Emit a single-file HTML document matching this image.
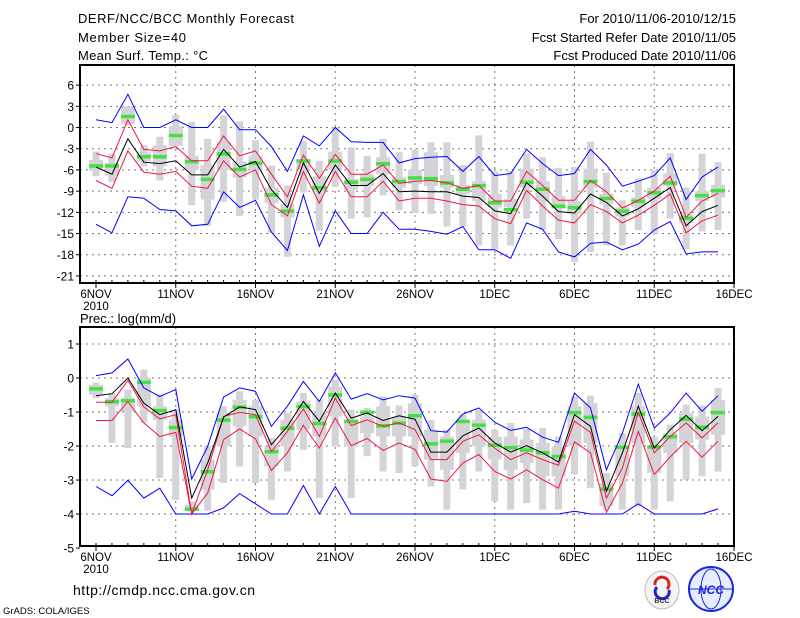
<!DOCTYPE html>
<html><head><meta charset="utf-8"><style>
html,body{margin:0;padding:0;background:#fff;}
svg{display:block;font-family:"Liberation Sans",sans-serif;}
</style></head><body>
<svg id="chart" width="800" height="618" viewBox="0 0 800 618">
<g font-size="13" fill="#000">
<text x="78" y="23" textLength="216">DERF/NCC/BCC Monthly Forecast</text>
<text x="78" y="42" textLength="108">Member Size=40</text>
<text x="78" y="60" textLength="130">Mean Surf. Temp.: °C</text>
<text x="736" y="23" text-anchor="end">For 2010/11/06-2010/12/15</text>
<text x="736" y="42" text-anchor="end">Fcst Started Refer Date 2010/11/05</text>
<text x="736" y="60" text-anchor="end">Fcst Produced Date 2010/11/06</text>
</g>
<text x="80" y="323" font-size="13">Prec.: log(mm/d)</text>
<g id="top"></g>
<g id="bot"></g>
<g>
<text x="73" y="595" font-size="14" textLength="182">http://cmdp.ncc.cma.gov.cn</text>
<text x="3" y="614" font-size="9.5">GrADS: COLA/IGES</text>
<g>
<ellipse cx="662" cy="590" rx="17" ry="19" fill="#f4f4f4" stroke="#bbb"/>
<path d="M655 585 a7 7 0 1 1 12 4" fill="none" stroke="#d22" stroke-width="3"/>
<path d="M669 590 a7 7 0 1 1 -12 -3" fill="none" stroke="#22c" stroke-width="3"/>
<text x="662" y="603" font-size="7" text-anchor="middle" font-weight="bold" fill="#333">BCC</text>
</g>
<g>
<circle cx="711" cy="589" r="22" fill="#e8ecff" stroke="#1a2ad8" stroke-width="2"/>
<ellipse cx="711" cy="589" rx="10" ry="20" fill="none" stroke="#1a2ad8"/>
<line x1="690" y1="589" x2="732" y2="589" stroke="#1a2ad8"/>
<text x="711" y="594" font-size="12" text-anchor="middle" font-weight="bold" font-style="italic" fill="#1a2ad8">NCC</text>
</g>
</g>
</svg>
<script>
const dayLabels = ["6NOV","11NOV","16NOV","21NOV","26NOV","1DEC","6DEC","11DEC","16DEC"];
const topTicks = [6,3,0,-3,-6,-9,-12,-15,-18,-21];
const botTicks = [1,0,-1,-2,-3,-4,-5];
const tBlueHi = [1.1,0.7,4.7,0,0,1.1,0,0,2.6,-0.3,-0.3,-2.7,-6.2,-1.2,-2.6,0,-2,-2.1,-2.1,-5,-4.4,-4.2,-4.1,-6.2,-4.1,-6.8,-6.5,-3.1,-5.1,-6.8,-6.5,-3.1,-5.3,-8.3,-7.6,-6.8,-4.3,-10.2,-7,-5.6];
const tBlueLo = [-13.7,-14.9,-9.8,-10,-11.6,-11.8,-13.9,-13.7,-9.1,-11.3,-10.3,-14.8,-17.4,-9.5,-16.8,-11.8,-15,-15,-12,-14.4,-14.4,-14.7,-15.1,-14,-17.3,-17.3,-18.5,-13.5,-14.4,-17.6,-18.3,-16.4,-16.2,-17.3,-16.5,-14.5,-13.3,-17.9,-17.6,-17.6];
const tRedHi = [-3.7,-4.3,1.1,-3.1,-3.3,-2.7,-4.7,-4.7,-1.2,-4,-3.3,-6.6,-9.8,-3.9,-7.2,-3.8,-6.6,-6.6,-5.3,-7.9,-7.6,-7.5,-7.8,-8.6,-8.2,-10.4,-10.4,-6.2,-8.2,-10.3,-10.3,-7.5,-9.1,-11.4,-10.3,-9,-6.9,-12.7,-10.4,-9.3];
const tRedLo = [-7.5,-8.6,-3.3,-6.3,-6.6,-6.2,-8.3,-8.6,-4.7,-7,-6,-10.9,-12.5,-6.2,-10.7,-6.2,-9.8,-9.8,-7.6,-10.4,-10,-10,-10.4,-10.9,-11.1,-12.9,-13.6,-8.9,-11.1,-13.1,-13.5,-10.9,-11.9,-13.5,-12.4,-11,-9.4,-14.9,-13.2,-12.4];
const tMean = [-5.6,-6.6,-1.6,-4.9,-5.1,-4.7,-6.7,-6.7,-3.1,-5.6,-4.8,-8.8,-11.3,-5,-9.3,-5.3,-8.2,-8.2,-6.5,-9.1,-9,-9.1,-9.1,-9.7,-9.9,-11.8,-12.2,-7.8,-9.7,-11.9,-12.1,-9.4,-10.6,-12.5,-11.5,-10,-8.5,-13.9,-11.9,-11];
const tObs = [-5.4,-5.4,1.6,-4.1,-4.1,-1.1,-4.8,-7.3,-3.7,-5.9,-5,-9.5,-11.8,-4.7,-8.5,-4.7,-7.7,-7.3,-5.1,-7.6,-7.1,-7.2,-7.8,-8.7,-8.2,-10.6,-11.6,-7.7,-8.7,-11.1,-11.3,-7.6,-10,-11.8,-10.4,-9.2,-7.8,-12.8,-9.6,-8.9];
const tMax = [-3.4,-3.7,3,-2.5,-1.3,1.8,0.8,-1.6,1.7,0.9,-1.8,-5.4,-8.2,-1.9,-4.7,0,-2.8,-4,-1.6,-3.5,-3.2,-2.1,-2.1,-5.3,-1.1,-6.2,-6.2,-3.7,-4.2,-5.7,-5.6,-2,-6.4,-10.3,-7.2,-6,-3.6,-8.5,-3.7,-4.9];
const tMin = [-6.9,-7.7,0.3,-5.5,-7.5,-2.6,-11,-13.9,-10.5,-12.5,-10.2,-14.9,-18.3,-9.2,-14.6,-8.4,-12.9,-12.7,-9.6,-11.7,-12.1,-12.2,-14,-14,-16.7,-17.2,-16.7,-12.9,-14.5,-15.8,-19,-17.6,-16.7,-16.7,-14.5,-15.1,-12.9,-17.2,-14.7,-14.5];
const tQ3 = [-4.6,-5,3,-3.5,-2.5,0.2,-4,-5.3,-2,-4.8,-4,-8.5,-10.8,-4.6,-6.9,-3.4,-7.3,-6.6,-4.2,-7,-6,-3.5,-6.7,-8.1,-7.6,-9.4,-10.1,-5.8,-7.6,-9.7,-10.4,-5.8,-9.4,-11.3,-9.9,-8.5,-6.5,-12.2,-9,-8.1];
const tQ1 = [-6.1,-6.8,0.5,-4.8,-5.5,-2.6,-6,-10.2,-6,-7.1,-6,-10.7,-12.7,-6,-9.2,-6,-8.8,-8.3,-6.6,-8.5,-8,-8.3,-8.5,-9.4,-10.4,-11.3,-11.3,-8.5,-10.4,-11.5,-12.2,-8.5,-10.8,-12.6,-11.3,-10.1,-8.3,-13.5,-10.4,-9.9];
const bBlueHi = [0.07,0.15,0.56,-0.29,-0.54,-0.34,-2.97,-2.01,-0.56,-0.29,-0.39,-1.42,-0.83,-0.1,-0.69,0.15,-0.62,-0.46,-0.64,-0.52,-0.59,-1.55,-1.59,-1.06,-0.88,-1.3,-1.54,-1.45,-1.74,-1.89,-0.44,-0.88,-2.7,-1.62,-0.18,-1.47,-1.03,-0.44,-0.98,-0.52];
const bBlueLo = [-3.19,-3.46,-3.01,-3.53,-3.24,-4,-4,-4,-3.82,-3.4,-3.7,-4,-4,-3.16,-4,-3.19,-4,-4,-4,-4,-4,-4,-4,-4,-4,-4,-4,-4,-4,-4,-3.92,-4,-4,-4,-3.7,-4,-4,-4,-4,-3.85];
const bRedHi = [-0.71,-0.71,-0.07,-0.85,-1.2,-1.08,-4,-2.7,-1.13,-1.01,-1.08,-2.16,-1.57,-0.91,-1.72,-0.59,-1.4,-1.23,-1.42,-1.32,-1.52,-2.4,-2.4,-1.86,-1.67,-2.06,-2.4,-2.2,-2.4,-2.57,-1.27,-1.6,-3.53,-2.65,-1.01,-2.2,-1.72,-1.32,-1.76,-1.32];
const bRedLo = [-1.25,-1.25,-0.69,-1.32,-1.72,-1.6,-4,-3.38,-1.81,-1.5,-1.79,-2.72,-2.2,-1.39,-2.06,-1.18,-1.99,-1.78,-2.13,-1.91,-2.1,-2.97,-3.04,-2.5,-2.25,-2.75,-2.97,-2.7,-2.99,-3.24,-1.88,-2.2,-3.95,-3.09,-1.57,-2.84,-2.32,-1.86,-2.33,-1.86];
const bMean = [-0.52,-0.46,0,-0.74,-1.08,-0.93,-3.53,-2.5,-1.15,-0.85,-0.93,-1.96,-1.42,-0.69,-1.27,-0.44,-1.18,-1.03,-1.25,-1.11,-1.21,-2.18,-2.18,-1.7,-1.47,-1.91,-2.18,-1.99,-2.2,-2.47,-1.08,-1.42,-3.33,-2.2,-0.83,-2.06,-1.52,-1.1,-1.55,-1.13];
const bObs = [-0.31,-0.69,-0.66,-0.12,-0.95,-1.45,-3.85,-2.75,-1.23,-0.85,-1.13,-2.16,-1.47,-0.83,-1.33,-0.49,-1.27,-1,-1.4,-1.32,-1.1,-1.93,-1.85,-1.27,-1.38,-1.97,-2.04,-2.11,-2.19,-2.3,-1.01,-1.15,-3.26,-2.03,-1.05,-2.02,-1.72,-1.2,-1.44,-1.01];
const bMax = [-0.13,-0.44,-0.34,0.25,-0.49,-0.93,-3.63,-2,-0.83,-0.39,-0.64,-1.76,-1.03,-0.44,-0.64,-0.05,-0.93,-0.88,-0.54,-0.81,-0.49,-1.23,-1.52,-1.08,-0.93,-1.52,-1.32,-1.5,-1.47,-1.72,-0.54,-0.52,-2.79,-1.62,-0.44,-1.72,-1.37,-0.78,-0.81,-0.29];
const bMin = [-0.59,-1.91,-2.06,-1.32,-2.94,-3.58,-3.92,-3.9,-3.09,-2.6,-3.09,-3.58,-2.75,-2.11,-3.53,-2.01,-3.53,-2.3,-2.75,-2.79,-2.6,-3.19,-3.87,-3.28,-2.75,-3.63,-3.87,-3.68,-3.87,-3.87,-2.84,-3.24,-3.87,-3.87,-3.77,-3.87,-3.63,-2.99,-2.89,-2.75];
const bQ3 = [-0.2,-0.59,-0.59,0,-0.83,-1.23,-3.73,-2.4,-1.03,-0.64,-0.83,-2.01,-1.23,-0.69,-1.03,-0.25,-1.23,-1.13,-0.83,-1.13,-0.74,-1.52,-1.72,-1.23,-1.23,-1.72,-1.72,-1.81,-1.91,-2.01,-0.83,-0.74,-3.09,-2.01,-0.83,-2.01,-1.62,-1.03,-1.13,-0.64];
const bQ1 = [-0.49,-0.83,-0.98,-0.83,-1.23,-1.72,-3.89,-3.28,-2.01,-1.42,-1.72,-2.6,-2.01,-1.52,-1.72,-1.13,-2.01,-1.62,-1.72,-1.72,-1.72,-2.4,-2.7,-2.2,-2.01,-2.4,-2.7,-2.5,-2.89,-2.89,-2.01,-1.91,-3.77,-2.89,-1.91,-2.79,-2.2,-1.91,-1.81,-1.67];

const NS = "http://www.w3.org/2000/svg";
const X0 = 80, X1 = 734;
function xScale(d){ return 96 + d * (X1 - 96) / 40; }
function mk(parent, tag, attrs){
  const e = document.createElementNS(NS, tag);
  for (const k in attrs) e.setAttribute(k, attrs[k]);
  parent.appendChild(e);
  return e;
}
function panel(g, top, bottom, vTop, vBot, ticks, S, names){
  const yScale = v => top + (vTop - v) * (bottom - top) / (vTop - vBot);
  // grid
  ticks.forEach(t => {
    const y = yScale(t);
    if (y > top + 1 && y < bottom - 1) {
      const gl = mk(g, "line", {x1:X0, x2:X1, y1:y, y2:y, stroke:"#777", "stroke-width":1, "stroke-dasharray":"2 4"});
      
      
    }
    const tk = mk(g, "line", {x1:X0-4, x2:X0, y1:y, y2:y, stroke:"#000"});
    
    
    const lb = mk(g, "text", {x:X0-6, y:y+4.5, "text-anchor":"end", "font-size":12});
    lb.textContent = String(t);
    
    
  });
  dayLabels.forEach((lab, i) => {
    const x = xScale(i * 5);
    if (i > 0 && i < 8) {
      const gl = mk(g, "line", {x1:x, x2:x, y1:top, y2:bottom, stroke:"#777", "stroke-dasharray":"2 4"});
      
      
    }
    const tk = mk(g, "line", {x1:x, x2:x, y1:bottom, y2:bottom+5, stroke:"#000"});
    
    
    const lb = mk(g, "text", {x:x, y:bottom+15, "text-anchor":"middle", "font-size":11.5});
    lb.textContent = lab;
    
    
  });
  for (let d = 0; d <= 40; d++) {
    const x = xScale(d);
    const mt = mk(g, "line", {x1:x, x2:x, y1:bottom-3, y2:bottom, stroke:"#000"});
    
    
  }
  const yr = mk(g, "text", {x:xScale(0), y:bottom+27, "text-anchor":"middle", "font-size":11.5});
  yr.textContent = "2010";
  
  
  // bars
  S.max.forEach((mx, d) => {
    const x = xScale(d);
    const r1 = mk(g, "rect", {x:x-3.5, y:yScale(mx), width:7, height:Math.max(1, yScale(S.min[d]) - yScale(mx)), fill:"#d4d4d8"});
    
    
    const r2 = mk(g, "rect", {x:x-7, y:yScale(S.q3[d]), width:14, height:Math.max(1, yScale(S.q1[d]) - yScale(S.q3[d])), fill:"#d4d4d8"});
    
    
  });
  S.obs.forEach((v, d) => {
    const x = xScale(d);
    const r = mk(g, "rect", {x:x-7, y:yScale(v)-1.5, width:14, height:3.5, fill:"#44e044"});
    
    
  });
  const lines = [[S.blo,"#0000ff","min-line"],[S.bhi,"#0000ff","max-line"],[S.rlo,"#f01840","lower-std-line"],[S.rhi,"#f01840","upper-std-line"],[S.mean,"#000","ensemble-mean-line"]];
  lines.forEach(([arr,col,nm]) => {
    const pts = arr.map((v,d) => xScale(d).toFixed(1) + "," + yScale(v).toFixed(1)).join(" ");
    const pl = mk(g, "polyline", {points:pts, fill:"none", stroke:col, "stroke-width":1});
    
    
  });
  const fr = mk(g, "rect", {x:X0, y:top, width:X1-X0, height:bottom-top, fill:"none", stroke:"#000", "stroke-width":2});
  
  
}
panel(document.getElementById("top"), 65, 283, 8.85, -22, topTicks,
  {max:tMax,min:tMin,q3:tQ3,q1:tQ1,obs:tObs,bhi:tBlueHi,blo:tBlueLo,rhi:tRedHi,rlo:tRedLo,mean:tMean}, "temp");
panel(document.getElementById("bot"), 327, 546, 1.5, -4.94, botTicks,
  {max:bMax,min:bMin,q3:bQ3,q1:bQ1,obs:bObs,bhi:bBlueHi,blo:bBlueLo,rhi:bRedHi,rlo:bRedLo,mean:bMean}, "precip");
</script>
</body></html>
